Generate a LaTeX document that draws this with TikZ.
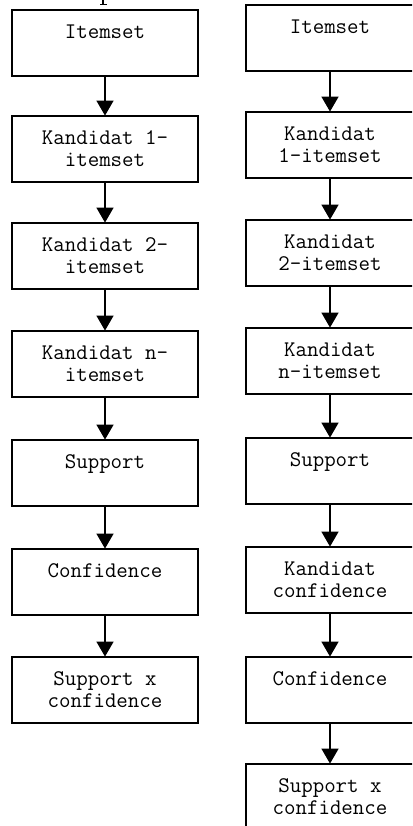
\documentclass[tikz,border=0pt]{standalone}
\usepackage{fontspec}
\usetikzlibrary{arrows.meta}

\begin{document}
\begin{tikzpicture}[x=1pt,y=-1pt,
  flowbox/.style={draw, line width=1.8pt, rectangle, minimum height=66pt,
    inner sep=0pt, align=center,
    font=\ttfamily\fontsize{22.3}{22}\selectfont},
  leftbox/.style={flowbox, minimum width=186pt},
  rightbox/.style={flowbox, minimum width=168pt},
  flowarrow/.style={line width=1.4pt,
    -{Triangle[width=17pt,length=15pt]}, shorten >=-0.5pt}
]
\useasboundingbox (0,0) rectangle (412,826);
\begin{scope}
\clip (0,0) rectangle (412,826);

% descender of a caption letter cut at the top edge
\fill (102,0) rectangle (104.2,4.2);
\fill (100,4.2) rectangle (107,5.4);

% left flow
\node[leftbox] (l1) at (105,43)  {Itemset\\\mbox{}};
\node[leftbox] (l2) at (105,149) {Kandidat 1-\\itemset};
\node[leftbox] (l3) at (105,256) {Kandidat 2-\\itemset};
\node[leftbox] (l4) at (105,364) {Kandidat n-\\itemset};
\node[leftbox] (l5) at (105,473) {Support\\\mbox{}};
\node[leftbox] (l6) at (105,582) {Confidence\\\mbox{}};
\node[leftbox] (l7) at (105,690) {Support x\\confidence};

\foreach \a/\b in {l1/l2,l2/l3,l3/l4,l4/l5,l5/l6,l6/l7}
  \draw[flowarrow] (\a.south) -- (\b.north);

% right flow
\node[rightbox] (r1) at (330,38)  {Itemset\\\mbox{}};
\node[rightbox] (r2) at (330,145) {Kandidat\\1-itemset};
\node[rightbox] (r3) at (330,253) {Kandidat\\2-itemset};
\node[rightbox] (r4) at (330,361) {Kandidat\\n-itemset};
\node[rightbox] (r5) at (330,471) {Support\\\mbox{}};
\node[rightbox] (r6) at (330,580) {Kandidat\\confidence};
\node[rightbox] (r7) at (330,690) {Confidence\\\mbox{}};
\node[rightbox] (r8) at (330,797) {Support x\\confidence};

\foreach \a/\b in {r1/r2,r2/r3,r3/r4,r4/r5,r5/r6,r6/r7,r7/r8}
  \draw[flowarrow] (\a.south) -- (\b.north);
\end{scope}
\end{tikzpicture}
\end{document}
